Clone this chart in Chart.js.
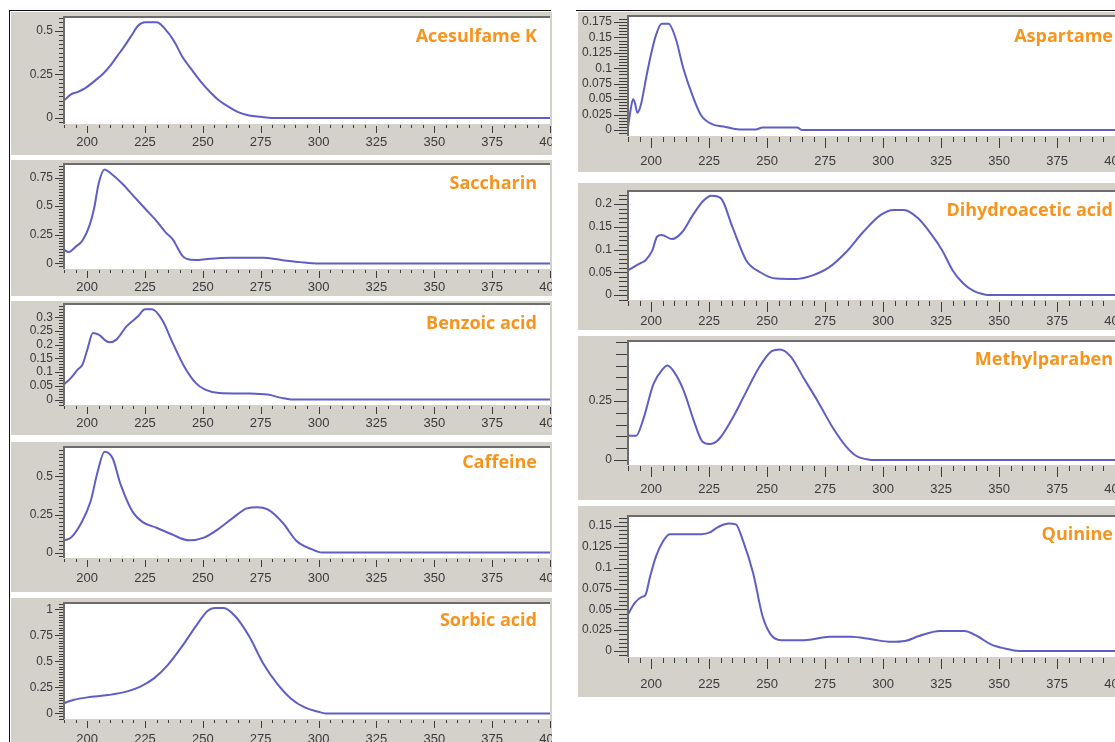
<!DOCTYPE html>
<html>
<head>
<meta charset="utf-8">
<script src="https://cdn.jsdelivr.net/npm/chart.js@4.4.1/dist/chart.umd.min.js"></script>
<style>
    body { margin: 0; width: 1115px; height: 742px; overflow: hidden; background: #fff; position: relative; }
    .panel { position: absolute; background: #d4d1cb; overflow: hidden; }
    .panel canvas { position: absolute; left: 0; top: 0; }
    .name { position: absolute; color: #f7941d; font: 700 18px "Open Sans", sans-serif; line-height: 20px; white-space: nowrap; }
    .rule { position: absolute; background: #111; }
</style>
</head>
<body>
<div class="rule" style="left:9px;top:10px;width:542px;height:1px"></div>
<div class="rule" style="left:9px;top:10px;width:1px;height:732px"></div>
<div class="rule" style="left:576px;top:10px;width:539px;height:1px"></div>

<script>
// x axis (wavelength, nm)
const wavelengthTicks = [200, 225, 250, 275, 300, 325, 350, 375, 400];

// spectra: wavelength (nm) / absorbance
const acesulfameNm  = [190, 193, 196, 199, 203, 207, 210, 213, 216, 219, 222, 225, 230, 235, 238, 241, 245, 249, 253, 257, 261, 265, 270, 275, 280, 400];
const acesulfameAbs = [0.10, 0.135, 0.15, 0.17, 0.21, 0.255, 0.30, 0.355, 0.41, 0.47, 0.53, 0.55, 0.55, 0.49, 0.43, 0.355, 0.28, 0.21, 0.15, 0.10, 0.065, 0.035, 0.014, 0.006, 0, 0];
const acesulfameTicks = [0, 0.25, 0.5];

const saccharinNm  = [190, 192, 195, 198, 201, 203, 205, 207.5, 210, 215, 220, 225, 230, 234, 237, 239, 241, 243, 247, 252, 262, 276, 284, 292, 300, 400];
const saccharinAbs = [0.12, 0.10, 0.145, 0.20, 0.33, 0.48, 0.70, 0.82, 0.79, 0.70, 0.59, 0.48, 0.37, 0.27, 0.21, 0.14, 0.07, 0.04, 0.03, 0.04, 0.05, 0.05, 0.03, 0.012, 0, 0];
const saccharinTicks = [0, 0.25, 0.5, 0.75];

const benzoicNm  = [190, 193, 196, 198, 200, 202.5, 205, 209.5, 212.5, 217, 222, 225, 228, 232.5, 237, 242, 247, 251, 257, 270, 278, 284, 289, 400];
const benzoicAbs = [0.055, 0.079, 0.11, 0.128, 0.18, 0.243, 0.237, 0.209, 0.218, 0.267, 0.304, 0.33, 0.33, 0.29, 0.206, 0.12, 0.06, 0.036, 0.024, 0.022, 0.018, 0.006, 0, 0];
const benzoicTicks = [0, 0.05, 0.1, 0.15, 0.2, 0.25, 0.3];

const caffeineNm  = [190, 193, 197.5, 201.5, 204.5, 207.5, 211, 214.5, 219.5, 224, 230, 236.5, 244, 250.5, 256.5, 263, 269, 273.5, 278, 284.5, 290.5, 297, 301.5, 400];
const caffeineAbs = [0.08, 0.098, 0.196, 0.337, 0.53, 0.663, 0.62, 0.446, 0.272, 0.2, 0.163, 0.12, 0.08, 0.098, 0.152, 0.228, 0.29, 0.298, 0.283, 0.196, 0.076, 0.022, 0, 0];
const caffeineTicks = [0, 0.25, 0.5];

const sorbicNm  = [190, 194, 200, 209, 217, 223, 229, 235, 241, 247, 252, 255, 259, 264, 270, 276, 282, 288, 294, 300, 303, 400];
const sorbicAbs = [0.10, 0.13, 0.155, 0.177, 0.21, 0.258, 0.34, 0.47, 0.645, 0.84, 0.985, 1.015, 1.015, 0.935, 0.742, 0.484, 0.29, 0.145, 0.058, 0.016, 0, 0];
const sorbicTicks = [0, 0.25, 0.5, 0.75, 1];

const aspartameNm  = [190, 191, 192.2, 193, 194, 195.5, 198, 200, 202, 204.5, 207.5, 210.5, 214, 218, 221.5, 226, 232, 238, 245, 248, 263, 265, 400];
const aspartameAbs = [0.004, 0.03, 0.05, 0.044, 0.028, 0.04, 0.088, 0.124, 0.153, 0.172, 0.172, 0.149, 0.098, 0.054, 0.024, 0.01, 0.005, 0.001, 0.001, 0.004, 0.004, 0, 0];
const aspartameTicks = [0, 0.025, 0.05, 0.075, 0.1, 0.125, 0.15, 0.175];

const dhaNm  = [190, 195, 197.5, 200.5, 202.5, 204.5, 209, 213.5, 218, 222.5, 226, 230, 235, 241, 247, 254, 262, 269, 276.5, 284, 291.5, 299, 304.5, 309, 315, 321, 325.5, 330, 334.5, 339, 343, 345, 400];
const dhaAbs = [0.054, 0.069, 0.076, 0.098, 0.128, 0.132, 0.123, 0.139, 0.176, 0.207, 0.218, 0.213, 0.15, 0.076, 0.05, 0.036, 0.035, 0.042, 0.06, 0.094, 0.139, 0.176, 0.187, 0.187, 0.169, 0.132, 0.098, 0.054, 0.026, 0.009, 0.002, 0, 0];
const dhaTicks = [0, 0.05, 0.1, 0.15, 0.2];

const methylNm  = [190, 193.5, 196.5, 201, 205, 207, 210, 214, 218.5, 222, 225, 229, 235, 240.5, 246.5, 252, 255.5, 260, 266, 272, 278, 284, 288.5, 293, 295, 400];
const methylAbs = [0.103, 0.103, 0.17, 0.322, 0.385, 0.4, 0.371, 0.294, 0.163, 0.079, 0.068, 0.086, 0.176, 0.28, 0.392, 0.461, 0.468, 0.44, 0.343, 0.246, 0.142, 0.058, 0.017, 0.003, 0, 0];
const methylTicks = [0, 0.25];

const quinineNm  = [190, 193, 196, 197.5, 199.5, 202, 205, 208, 214, 220, 225, 229, 233.5, 236.5, 239.5, 244, 248, 251.5, 256, 266, 277, 286, 295, 303.5, 309.5, 315.5, 324.5, 335, 340.5, 346.5, 352.5, 358.5, 400];
const quinineAbs = [0.044, 0.058, 0.065, 0.067, 0.089, 0.113, 0.131, 0.14, 0.14, 0.14, 0.142, 0.149, 0.153, 0.152, 0.133, 0.093, 0.042, 0.02, 0.013, 0.013, 0.017, 0.017, 0.014, 0.011, 0.012, 0.018, 0.024, 0.024, 0.018, 0.008, 0.003, 0, 0];
const quinineTicks = [0, 0.025, 0.05, 0.075, 0.1, 0.125, 0.15];

// column geometry
const columns = {
    L: { left: 11, width: 541, axisW: 53, plotW: 539, titleRight: 1115 - 537, xMajor: 7, xMinor: 3, yMajor: 9, yMinor: 5, yPad: 11 },
    R: { left: 578, width: 537, axisW: 50, plotW: 537, titleRight: 2, xMajor: 10, xMinor: 5, yMajor: 14, yMinor: 9, yPad: 16 }
};

const panels = [
    { name: 'Acesulfame K', nm: acesulfameNm, abs: acesulfameAbs, ticks: acesulfameTicks, step: 0.025, yMin: -0.035, yMax: 0.58, col: 'L', top: 12, h: 143, plotTop: 5, plotBottom: 112, labelOff: 19, titleY: 35 },
    { name: 'Saccharin', nm: saccharinNm, abs: saccharinAbs, ticks: saccharinTicks, step: 0.025, yMin: -0.048, yMax: 0.868, col: 'L', top: 160, h: 136, plotTop: 4, plotBottom: 109, labelOff: 19, titleY: 182 },
    { name: 'Benzoic acid', nm: benzoicNm, abs: benzoicAbs, ticks: benzoicTicks, step: 0.01, yMin: -0.02, yMax: 0.349, col: 'L', top: 301, h: 134, plotTop: 3, plotBottom: 104, labelOff: 19, titleY: 322 },
    { name: 'Caffeine', nm: caffeineNm, abs: caffeineAbs, ticks: caffeineTicks, step: 0.025, yMin: -0.036, yMax: 0.694, col: 'L', top: 442, h: 150, plotTop: 5, plotBottom: 116, labelOff: 21, titleY: 461 },
    { name: 'Sorbic acid', nm: sorbicNm, abs: sorbicAbs, ticks: sorbicTicks, step: 0.025, yMin: -0.053, yMax: 1.0625, col: 'L', top: 598, h: 150, plotTop: 5, plotBottom: 121, labelOff: 21, titleY: 619 },
    { name: 'Aspartame', nm: aspartameNm, abs: aspartameAbs, ticks: aspartameTicks, step: 0.005, yMin: -0.0097, yMax: 0.1847, col: 'R', top: 12, h: 160, plotTop: 4, plotBottom: 124, labelOff: 26, titleY: 35 },
    { name: 'Dihydroacetic acid', nm: dhaNm, abs: dhaAbs, ticks: dhaTicks, step: 0.01, yMin: -0.011, yMax: 0.2286, col: 'R', top: 183, h: 147, plotTop: 8, plotBottom: 117, labelOff: 22, titleY: 209 },
    { name: 'Methylparaben', nm: methylNm, abs: methylAbs, ticks: methylTicks, step: 0.05, longSteps: true, yMin: -0.021, yMax: 0.504, col: 'R', top: 336, h: 164, plotTop: 5, plotBottom: 129, labelOff: 25, titleY: 358 },
    { name: 'Quinine', nm: quinineNm, abs: quinineAbs, ticks: quinineTicks, step: 0.005, yMin: -0.0072, yMax: 0.162, col: 'R', top: 506, h: 191, plotTop: 10, plotBottom: 151, labelOff: 28, titleY: 533 }
];

// white plot area, frame, and the ruler-style tick marks
const axisMarks = {
    id: 'axisMarks',
    beforeDraw(chart) {
        const { ctx, chartArea: a } = chart;
        ctx.save();
        ctx.fillStyle = '#ffffff';
        ctx.fillRect(a.left, a.top, a.right - a.left, a.bottom - a.top);
        ctx.restore();
    },
    afterDraw(chart, args, o) {
        const { ctx, chartArea: a, scales: { x, y } } = chart;
        ctx.save();
        ctx.strokeStyle = '#3c3c3c';
        ctx.lineWidth = 1;
        ctx.beginPath();
        for (let v = 190; v <= 400; v += 5) {
            const px = Math.round(x.getPixelForValue(v)) + 0.5;
            if (v % 25 === 0) {
                ctx.moveTo(px, a.bottom + 2);
                ctx.lineTo(px, a.bottom + 2 + o.xMajor);
            } else {
                ctx.moveTo(px, a.bottom + 1);
                ctx.lineTo(px, a.bottom + 1 + o.xMinor);
            }
        }
        const n0 = Math.ceil(y.min / o.step - 1e-6), n1 = Math.floor(y.max / o.step + 1e-6);
        for (let i = n0; i <= n1; i++) {
            const py = Math.round(y.getPixelForValue(i * o.step)) + 0.5;
            const len = o.longSteps ? o.yMajor - 2 : o.yMinor;
            ctx.moveTo(a.left - len, py);
            ctx.lineTo(a.left, py);
        }
        y.ticks.forEach(t => {
            const py = Math.round(y.getPixelForValue(t.value)) + 0.5;
            ctx.moveTo(a.left - o.yMajor, py);
            ctx.lineTo(a.left, py);
        });
        ctx.stroke();

        ctx.strokeStyle = '#6c6c6c';
        ctx.lineWidth = 2;
        ctx.beginPath();
        ctx.moveTo(a.left, a.bottom);
        ctx.lineTo(a.left, a.top);
        ctx.lineTo(a.right, a.top);
        ctx.stroke();
        ctx.restore();
    }
};

panels.forEach(p => {
    const c = columns[p.col];
    const wrap = document.createElement('div');
    wrap.className = 'panel';
    wrap.style.left = c.left + 'px';
    wrap.style.top = p.top + 'px';
    wrap.style.width = c.width + 'px';
    wrap.style.height = p.h + 'px';
    const canvas = document.createElement('canvas');
    const padRight = 10;
    canvas.width = c.plotW + padRight;
    canvas.height = p.h;
    wrap.appendChild(canvas);
    document.body.appendChild(wrap);

    const title = document.createElement('div');
    title.className = 'name';
    title.textContent = p.name;
    title.style.right = c.titleRight + 'px';
    title.style.top = (p.titleY - 10) + 'px';
    document.body.appendChild(title);

    new Chart(canvas, {
        type: 'line',
        data: {
            datasets: [{
                data: p.nm.map((v, i) => ({ x: v, y: p.abs[i] })),
                borderColor: '#5e5ec6',
                borderWidth: 2,
                pointRadius: 0,
                cubicInterpolationMode: 'monotone',
                fill: false
            }]
        },
        options: {
            responsive: false,
            animation: false,
            events: [],
            layout: { padding: { top: p.plotTop, right: padRight, left: 0, bottom: 0 } },
            plugins: {
                legend: { display: false },
                tooltip: { enabled: false },
                axisMarks: { step: p.step, longSteps: !!p.longSteps, xMajor: c.xMajor, xMinor: c.xMinor, yMajor: c.yMajor, yMinor: c.yMinor }
            },
            scales: {
                x: {
                    type: 'linear',
                    min: 190,
                    max: 400,
                    border: { display: false },
                    grid: { display: false, drawTicks: false },
                    afterBuildTicks: s => { s.ticks = wavelengthTicks.map(v => ({ value: v })); },
                    afterFit: s => {
                        s.height = p.h - p.plotBottom;
                        s.paddingLeft = 0; s.paddingRight = 0;
                    },
                    ticks: {
                        padding: p.labelOff - 8,
                        maxRotation: 0,
                        autoSkip: false,
                        color: '#3a3a3a',
                        font: { family: 'Liberation Sans', size: 13 },
                        callback: v => String(v)
                    }
                },
                y: {
                    min: p.yMin,
                    max: p.yMax,
                    border: { display: false },
                    grid: { display: false, drawTicks: false },
                    afterBuildTicks: s => { s.ticks = p.ticks.map(v => ({ value: v })); },
                    afterFit: s => {
                        s.width = c.axisW;
                        s.paddingTop = 0; s.paddingBottom = 0;
                    },
                    ticks: {
                        padding: c.yPad,
                        autoSkip: false,
                        color: '#3a3a3a',
                        font: { family: 'Liberation Sans', size: 12 },
                        callback: v => String(v)
                    }
                }
            }
        },
        plugins: [axisMarks]
    });
});
</script>
</body>
</html>
